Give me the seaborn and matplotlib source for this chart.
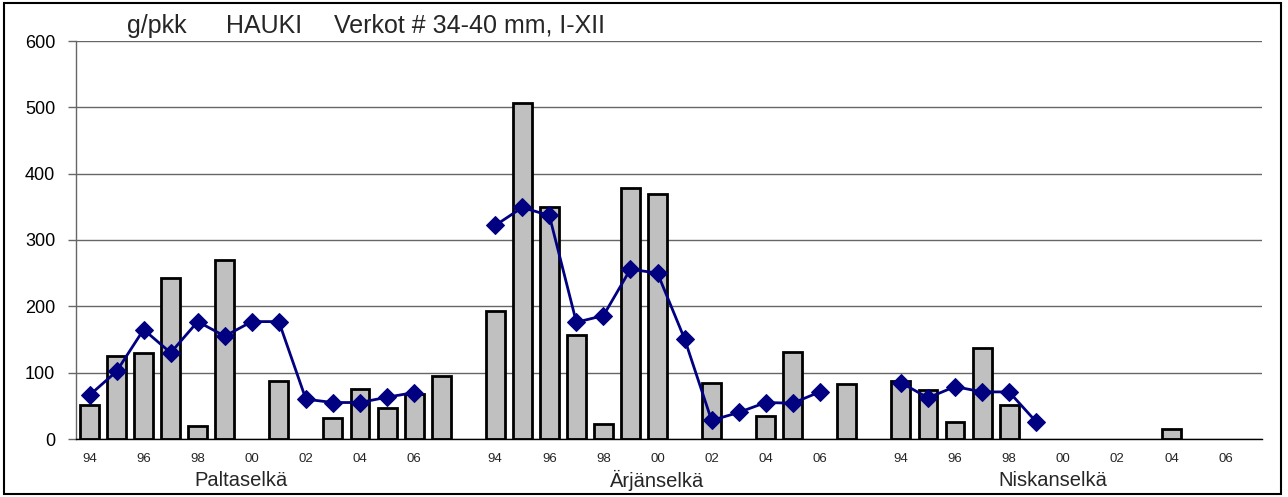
import numpy as np
import pandas as pd
import matplotlib
matplotlib.use('Agg')
import matplotlib.pyplot as plt
import matplotlib.transforms as mtransforms
import seaborn as sns

# years shown within each lake group (1994..2007)
years = ['94', '95', '96', '97', '98', '99', '00', '01', '02', '03', '04', '05', '06', '07']
groups = ['Paltaselkä', 'Ärjänselkä', 'Niskanselkä']
year_ticks = ['94', '96', '98', '00', '02', '04', '06']

nan = np.nan
# bars (g/pkk per year)
bars_palta = [52, 125, 129, 243, 19, 270, nan, 87, nan, 32, 75, 46, 68, 95]
bars_arjan = [193, 506, 349, 157, 23, 379, 369, nan, 84, nan, 34, 131, nan, 83]
bars_niska = [88, 74, 25, 137, 52, nan, nan, nan, nan, nan, 15, nan, nan, nan]

# line (navy diamonds)
line_palta = [66, 102, 165, 130, 177, 155, 177, 177, 60, 55, 55, 63, 70, nan]
line_arjan = [322, 349, 337, 176, 186, 256, 250, 151, 28, 40, 55, 54, 71, nan]
line_niska = [85, 62, 79, 71, 71, 26, nan, nan, nan, nan, nan, nan, nan, nan]

group_label_offset = [5.6, 6.0, 5.6]

rows = []
for g, (gname, b, l) in enumerate(zip(groups, [bars_palta, bars_arjan, bars_niska],
                                      [line_palta, line_arjan, line_niska])):
    for i, yr in enumerate(years):
        rows.append({'pos': g * (len(years) + 1) + i, 'group': gname, 'year': yr,
                     'bar': b[i], 'line': l[i]})
df = pd.DataFrame(rows)

sns.set_theme(style='white')
plt.rcParams['font.family'] = ['Liberation Sans', 'DejaVu Sans']

fig = plt.figure(figsize=(12.88, 4.97), dpi=100)
ax = fig.add_axes([76 / 1288, 1 - 439 / 497, (1262 - 76) / 1288, 398 / 497])

bar_df = df.dropna(subset=['bar'])
sns.barplot(data=bar_df, x='pos', y='bar', native_scale=True, width=0.7,
            color='#c0c0c0', saturation=1, edgecolor='black', linewidth=2,
            errorbar=None, ax=ax)

line_df = df.dropna(subset=['line'])
sns.lineplot(data=line_df, x='pos', y='line', units='group', estimator=None,
             color='#000080', linewidth=2, marker='D', markersize=9.5,
             markeredgecolor='#000080', ax=ax)

ax.set_xlim(-0.5, 43.35)
ax.set_ylim(0, 600)
ax.set_yticks(range(0, 601, 100))
ax.yaxis.grid(True, color='#666666', linewidth=1)
ax.set_axisbelow(True)
ax.tick_params(axis='y', labelsize=13, length=6, width=1, left=True,
               color='#666666', labelcolor='black', pad=9)

tick_pos = df.loc[df['year'].isin(year_ticks), 'pos']
tick_lab = df.loc[df['year'].isin(year_ticks), 'year']
ax.set_xticks(tick_pos)
ax.set_xticklabels(tick_lab, fontsize=9.5)
ax.tick_params(axis='x', length=0, pad=10)

ax.set_xlabel('')
ax.set_ylabel('')
for s in ['top', 'right']:
    ax.spines[s].set_visible(False)
ax.spines['left'].set_color('#666666')
ax.spines['left'].set_linewidth(1)
ax.spines['bottom'].set_color('black')
ax.spines['bottom'].set_linewidth(1)

trans = mtransforms.blended_transform_factory(ax.transData, ax.transAxes)
for g, gname in enumerate(groups):
    ax.text(g * (len(years) + 1) + group_label_offset[g], -0.105, gname,
            transform=trans, ha='center', va='center', fontsize=14.5)

title_y = 1 - 33 / 497
fig.text(127 / 1288, title_y, 'g/pkk', ha='left', va='baseline', fontsize=18)
fig.text(226 / 1288, title_y, 'HAUKI', ha='left', va='baseline', fontsize=18)
fig.text(334 / 1288, title_y, 'Verkot # 34-40 mm, I-XII', ha='left', va='baseline', fontsize=18)

fig.patches.append(plt.Rectangle((4 / 1288, 3 / 497), 1277 / 1288, 491 / 497,
                                 transform=fig.transFigure, fill=False,
                                 edgecolor='black', linewidth=1.5))

fig.savefig('out.png', dpi=100)
